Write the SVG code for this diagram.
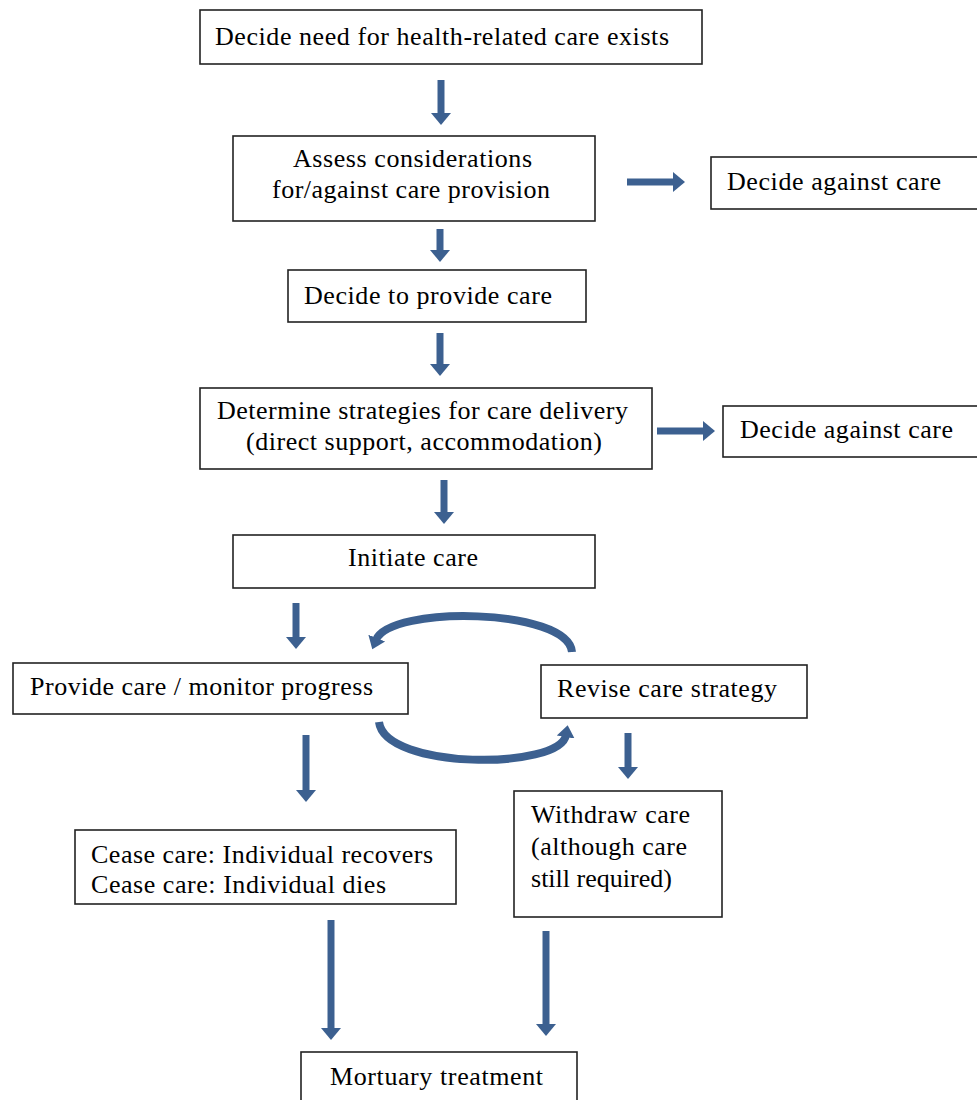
<svg xmlns="http://www.w3.org/2000/svg" width="977" height="1100" viewBox="0 0 977 1100">
<style>
.box{fill:#fff;stroke:#222;stroke-width:1.6}
.t{font-family:"Liberation Serif","Times New Roman",serif;font-size:26px;fill:#000}
.ar{stroke:#3c6090;stroke-width:7;fill:none}
.cv{stroke:#3c6090;stroke-width:8;fill:none}
</style>
<defs>
<marker id="h" markerUnits="userSpaceOnUse" markerWidth="14" markerHeight="22" refX="0" refY="11" orient="auto">
<path d="M0,1 L12,11 L0,21 z" fill="#3c6090"/>
</marker>
<marker id="hc" markerUnits="userSpaceOnUse" markerWidth="14" markerHeight="20" refX="2" refY="10" orient="auto">
<path d="M0,1 L12,10 L0,19 z" fill="#3c6090"/>
</marker>
</defs>
<rect width="977" height="1100" fill="#fff"/>
<g id="connectors">
<line class="ar" x1="441" y1="80" x2="441" y2="113" marker-end="url(#h)"/>
<line class="ar" x1="627" y1="182" x2="673" y2="182" marker-end="url(#h)"/>
<line class="ar" x1="440" y1="229" x2="440" y2="250" marker-end="url(#h)"/>
<line class="ar" x1="440" y1="333" x2="440" y2="364" marker-end="url(#h)"/>
<line class="ar" x1="657" y1="431" x2="703" y2="431" marker-end="url(#h)"/>
<line class="ar" x1="444" y1="480" x2="444" y2="512" marker-end="url(#h)"/>
<line class="ar" x1="296" y1="603" x2="296" y2="637" marker-end="url(#h)"/>
<line class="ar" x1="306" y1="735" x2="306" y2="790" marker-end="url(#h)"/>
<line class="ar" x1="628" y1="733" x2="628" y2="767" marker-end="url(#h)"/>
<line class="ar" x1="331" y1="920" x2="331" y2="1028" marker-end="url(#h)"/>
<line class="ar" x1="546" y1="931" x2="546" y2="1024" marker-end="url(#h)"/>
<path class="cv" d="M572,652 C568,608 390,605 376,640" marker-end="url(#hc)"/>
<path class="cv" d="M379,722 C385,770 560,770 566,735" marker-end="url(#hc)"/>
</g>
<g id="n1"><rect class="box" x="200" y="10" width="502" height="54"/><text class="t" x="215" y="45" textLength="454" lengthAdjust="spacing">Decide need for health-related care exists</text></g>
<g id="n2"><rect class="box" x="233" y="136" width="362" height="85"/><text class="t" x="293" y="167" textLength="239" lengthAdjust="spacing">Assess considerations</text><text class="t" x="272" y="198" textLength="278" lengthAdjust="spacing">for/against care provision</text></g>
<g id="n3"><rect class="box" x="711" y="157" width="270" height="52"/><text class="t" x="727" y="190" textLength="214" lengthAdjust="spacing">Decide against care</text></g>
<g id="n4"><rect class="box" x="288" y="270" width="298" height="52"/><text class="t" x="304" y="304" textLength="248" lengthAdjust="spacing">Decide to provide care</text></g>
<g id="n5"><rect class="box" x="200" y="388" width="452" height="81"/><text class="t" x="217" y="419" textLength="411" lengthAdjust="spacing">Determine strategies for care delivery</text><text class="t" x="246" y="450" textLength="356" lengthAdjust="spacing">(direct support, accommodation)</text></g>
<g id="n6"><rect class="box" x="723" y="406" width="258" height="51"/><text class="t" x="740" y="438" textLength="213" lengthAdjust="spacing">Decide against care</text></g>
<g id="n7"><rect class="box" x="233" y="535" width="362" height="53"/><text class="t" x="348" y="566" textLength="130" lengthAdjust="spacing">Initiate care</text></g>
<g id="n8"><rect class="box" x="13" y="663" width="395" height="51"/><text class="t" x="30" y="695" textLength="343" lengthAdjust="spacing">Provide care / monitor progress</text></g>
<g id="n9"><rect class="box" x="541" y="665" width="266" height="53"/><text class="t" x="557" y="697" textLength="220" lengthAdjust="spacing">Revise care strategy</text></g>
<g id="n10"><rect class="box" x="514" y="791" width="208" height="126"/><text class="t" x="531" y="823" textLength="159" lengthAdjust="spacing">Withdraw care</text><text class="t" x="531" y="855" textLength="156" lengthAdjust="spacing">(although care</text><text class="t" x="531" y="887" textLength="141" lengthAdjust="spacing">still required)</text></g>
<g id="n11"><rect class="box" x="75" y="830" width="381" height="74"/><text class="t" x="91" y="863" textLength="342" lengthAdjust="spacing">Cease care: Individual recovers</text><text class="t" x="91" y="893" textLength="295" lengthAdjust="spacing">Cease care: Individual dies</text></g>
<g id="n12"><rect class="box" x="301" y="1052" width="276" height="60"/><text class="t" x="330" y="1085" textLength="213" lengthAdjust="spacing">Mortuary treatment</text></g>
</svg>
